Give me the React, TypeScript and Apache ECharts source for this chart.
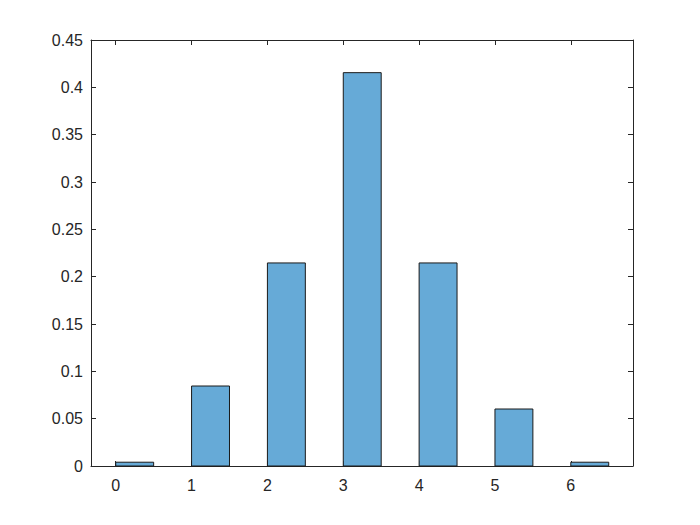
import React, { useEffect, useRef } from "react";
import * as echarts from "echarts";

const binStarts = [0, 1, 2, 3, 4, 5, 6];
const binWidth = 0.5;
const probabilities = [0.004, 0.0845, 0.2145, 0.4155, 0.2145, 0.0602, 0.004];
const xTicks = [0, 1, 2, 3, 4, 5, 6];
const xMin = -0.326;
const xMax = 6.82;

export default function App() {
  const ref = useRef<HTMLDivElement>(null);
  useEffect(() => {
    if (!ref.current) return;
    const chart = echarts.init(ref.current, null, { renderer: "svg" });
    const axisColor = "#262626";
    const font = "Liberation Sans, Arial, Helvetica, sans-serif";
    const data = binStarts.map((s, i) => [s, s + binWidth, probabilities[i]]);
    chart.setOption({
      animation: false,
      backgroundColor: "#ffffff",
      grid: { left: 91, top: 40, right: 67, bottom: 59, containLabel: false },
      xAxis: [
        {
          type: "value",
          min: xMin,
          max: xMax,
          position: "bottom",
          splitLine: { show: false },
          axisLine: { show: true, onZero: false, lineStyle: { color: axisColor, width: 1 } },
          axisTick: { show: true, inside: true, length: 5, customValues: xTicks, lineStyle: { color: axisColor } },
          axisLabel: { show: true, customValues: xTicks, color: axisColor, fontSize: 16, fontFamily: font, margin: 11 },
        },
        {
          type: "value",
          min: xMin,
          max: xMax,
          position: "top",
          splitLine: { show: false },
          axisLine: { show: true, onZero: false, lineStyle: { color: axisColor, width: 1 } },
          axisTick: { show: true, inside: true, length: 5, customValues: xTicks, lineStyle: { color: axisColor } },
          axisLabel: { show: false },
        },
      ],
      yAxis: [
        {
          type: "value",
          min: 0,
          max: 0.45,
          interval: 0.05,
          position: "left",
          splitLine: { show: false },
          axisLine: { show: true, onZero: false, lineStyle: { color: axisColor, width: 1 } },
          axisTick: { show: true, inside: true, length: 5, lineStyle: { color: axisColor } },
          axisLabel: {
            color: axisColor,
            fontSize: 16,
            fontFamily: font,
            margin: 8,
            formatter: (v: number) => String(parseFloat(v.toFixed(2))),
          },
        },
        {
          type: "value",
          min: 0,
          max: 0.45,
          interval: 0.05,
          position: "right",
          splitLine: { show: false },
          axisLine: { show: true, onZero: false, lineStyle: { color: axisColor, width: 1 } },
          axisTick: { show: true, inside: true, length: 5, lineStyle: { color: axisColor } },
          axisLabel: { show: false },
        },
      ],
      series: [
        {
          type: "custom",
          xAxisIndex: 0,
          yAxisIndex: 0,
          data,
          encode: { x: [0, 1], y: 2 },
          renderItem: (params: any, api: any) => {
            const x0 = api.value(0);
            const x1 = api.value(1);
            const y = api.value(2);
            const p0 = api.coord([x0, y]);
            const p1 = api.coord([x1, 0]);
            return {
              type: "rect",
              shape: { x: p0[0], y: p0[1], width: p1[0] - p0[0], height: p1[1] - p0[1] },
              style: { fill: "#66aad7", stroke: "#1a1a1a", lineWidth: 1 },
            };
          },
        },
      ],
    });
    return () => chart.dispose();
  }, []);
  return (
    <div
      ref={ref}
      style={{ position: "fixed", left: 0, top: 0, width: 700, height: 525, background: "#fff" }}
    />
  );
}
